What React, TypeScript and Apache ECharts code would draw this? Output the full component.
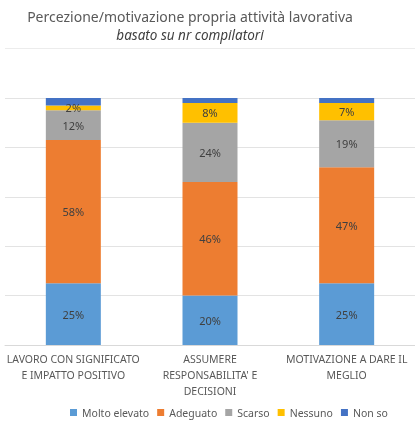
import React, { useEffect, useRef } from "react";
import * as echarts from "echarts";

const categories = [
  "LAVORO CON SIGNIFICATO\nE IMPATTO POSITIVO",
  "ASSUMERE\nRESPONSABILITA' E\nDECISIONI",
  "MOTIVAZIONE A DARE IL\nMEGLIO",
];
const seriesNames = ["Molto elevato", "Adeguato", "Scarso", "Nessuno", "Non so"];
const moltoElevato = [25, 20, 25];
const adeguato = [58, 46, 47];
const scarso = [12, 24, 19];
const nessuno = [2, 8, 7];
const nonSo = [3, 2, 2];
const colors = ["#5B9BD5", "#ED7D31", "#A5A5A5", "#FFC000", "#4472C4"];
const titleText = "Percezione/motivazione propria attività lavorativa";
const subtitleText = "basato su nr compilatori";

export default function App() {
  const ref = useRef<HTMLDivElement>(null);
  useEffect(() => {
    if (!ref.current) return;
    const chart = echarts.init(ref.current, undefined, { renderer: "svg" });
    const values = [moltoElevato, adeguato, scarso, nessuno, nonSo];
    const font = "'Noto Sans', sans-serif";
    chart.setOption({
      animation: false,
      textStyle: { fontFamily: font },
      graphic: [
        {
          type: "text",
          x: 190,
          y: 16,
          style: {
            text: titleText,
            fill: "#595959",
            font: `14px ${font}`,
            lineHeight: 15,
            textAlign: "center",
            textVerticalAlign: "middle",
          },
        },
        {
          type: "text",
          x: 190,
          y: 35,
          style: {
            text: subtitleText,
            fill: "#404040",
            font: `italic 13.5px ${font}`,
            lineHeight: 15,
            textAlign: "center",
            textVerticalAlign: "middle",
          },
        },
        {
          type: "line",
          shape: { x1: 5, y1: 48.5, x2: 415, y2: 48.5 },
          style: { stroke: "#ececec", lineWidth: 1 },
        },
      ],
      legend: {
        data: seriesNames,
        left: 65,
        top: 402,
        itemWidth: 7,
        itemHeight: 7,
        itemGap: 8,
        icon: "rect",
        textStyle: { color: "#595959", fontSize: 10.5, fontFamily: font },
      },
      grid: { left: 5, top: 98, width: 417, bottom: 80, containLabel: false },
      xAxis: {
        type: "category",
        data: categories,
        axisTick: { show: false },
        axisLine: { lineStyle: { color: "#d9d9d9" } },
        axisLabel: {
          color: "#595959",
          fontSize: 10.5,
          lineHeight: 16,
          margin: 6,
          interval: 0,
          fontFamily: font,
        },
      },
      yAxis: {
        type: "value",
        min: 0,
        max: 100,
        interval: 20,
        axisLabel: { show: false },
        axisLine: { show: false },
        axisTick: { show: false },
        splitLine: { lineStyle: { color: "#e3e3e3" } },
      },
      series: seriesNames.map((name, i) => ({
        name,
        type: "bar",
        stack: "total",
        barWidth: 55,
        data: values[i],
        itemStyle: { color: colors[i] },
        label: {
          show: i < 4,
          position: "inside",
          color: "#404040",
          fontSize: 11,
          fontFamily: font,
          formatter: "{c}%",
        },
      })),
    });
    return () => chart.dispose();
  }, []);
  return (
    <div
      ref={ref}
      style={{ position: "fixed", left: 0, top: 0, width: 415, height: 425 }}
    />
  );
}
